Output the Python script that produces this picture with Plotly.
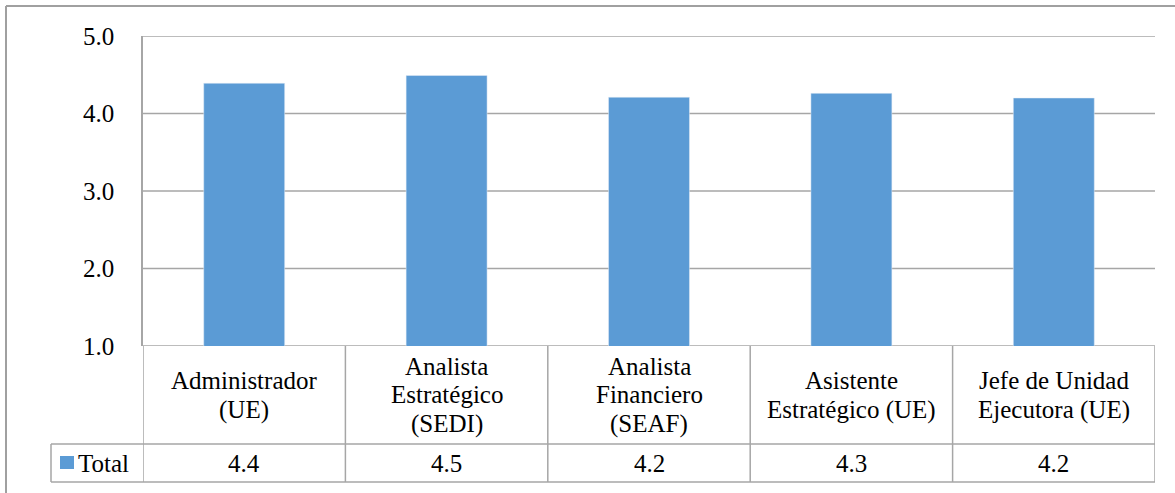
import plotly.graph_objects as go

categories = [
    "Administrador<br>(UE)",
    "Analista<br>Estratégico<br>(SEDI)",
    "Analista<br>Financiero<br>(SEAF)",
    "Asistente<br>Estratégico (UE)",
    "Jefe de Unidad<br>Ejecutora (UE)",
]
values = [4.39, 4.49, 4.21, 4.26, 4.20]
series_name = "Total"
y_ticks = [1, 2, 3, 4, 5]

W, H = 1175, 493
L, R, T, B = 143, 20, 36, 147
PW, PH = W - L - R, H - T - B

BAR = "#5B9BD5"
GRID = "#A6A6A6"
FONT = "Times New Roman, DejaVu Serif, serif"
FS = 25


def px(x):
    return (x - L) / PW


def py(y):
    return (H - B - y) / PH


xs = list(range(len(categories)))
fig = go.Figure(go.Bar(x=xs, y=values, marker_color=BAR, width=0.4,
                       name=series_name, showlegend=False))

shapes = []
line = dict(color=GRID, width=1.5)
for v in y_ticks:
    shapes.append(dict(type="line", xref="paper", yref="y", x0=0, x1=1, y0=v, y1=v,
                       line=line, layer="below"))
row1_bottom, row2_bottom = 444, 482
for yy in (row1_bottom, row2_bottom):
    shapes.append(dict(type="line", xref="paper", yref="paper", x0=px(51), x1=1,
                       y0=py(yy), y1=py(yy), line=line))
for i in range(len(categories) + 1):
    shapes.append(dict(type="line", xref="x", yref="paper", x0=i - 0.5, x1=i - 0.5,
                       y0=0, y1=py(row2_bottom), line=line))
shapes.append(dict(type="line", xref="paper", yref="paper", x0=px(51), x1=px(51),
                   y0=py(row1_bottom), y1=py(row2_bottom), line=line))
shapes.append(dict(type="rect", xref="paper", yref="paper", x0=px(60), x1=px(74),
                   y0=py(469), y1=py(456), fillcolor=BAR, line=dict(width=0)))
frame = dict(color="#A0A0A0", width=2)
shapes.append(dict(type="line", xref="paper", yref="paper", x0=px(6), x1=px(1180),
                   y0=py(6), y1=py(6), line=frame))
shapes.append(dict(type="line", xref="paper", yref="paper", x0=px(6), x1=px(6),
                   y0=py(6), y1=py(500), line=frame))

annotations = []
LS = 29
header_center = (346 + row1_bottom) / 2
tf = dict(family=FONT, size=FS, color="black")
for i, cat in enumerate(categories):
    lines = cat.split("<br>")
    n = len(lines)
    for k, txt in enumerate(lines):
        yc = header_center + (k - (n - 1) / 2) * LS
        annotations.append(dict(x=i, xref="x", y=py(yc), yref="paper", text=txt,
                                showarrow=False, yanchor="middle", xanchor="center", font=tf))
    annotations.append(dict(x=i, xref="x", y=py((row1_bottom + row2_bottom) / 2), yref="paper",
                            text=f"{values[i]:.1f}", showarrow=False, yanchor="middle",
                            xanchor="center", font=tf))
annotations.append(dict(x=px(76), xref="paper", y=py((row1_bottom + row2_bottom) / 2), yref="paper",
                        text=series_name, showarrow=False, yanchor="middle", xanchor="left",
                        font=tf))

fig.update_layout(
    width=W, height=H,
    margin=dict(l=L, r=R, t=T, b=B),
    paper_bgcolor="white", plot_bgcolor="white",
    font=dict(family=FONT),
    shapes=shapes, annotations=annotations,
    xaxis=dict(range=[-0.5, len(categories) - 0.5], showticklabels=False, showgrid=False,
               zeroline=False, showline=False, fixedrange=True),
    yaxis=dict(range=[1, 5], tickvals=y_ticks, ticktext=[f"{v:.1f}" for v in y_ticks],
               showgrid=False, zeroline=False,
               showline=True, linecolor=GRID, linewidth=1.5, ticks="",
               ticklabelstandoff=22, tickfont=tf),
    bargap=0.6,
)

fig.write_html("out.html")
